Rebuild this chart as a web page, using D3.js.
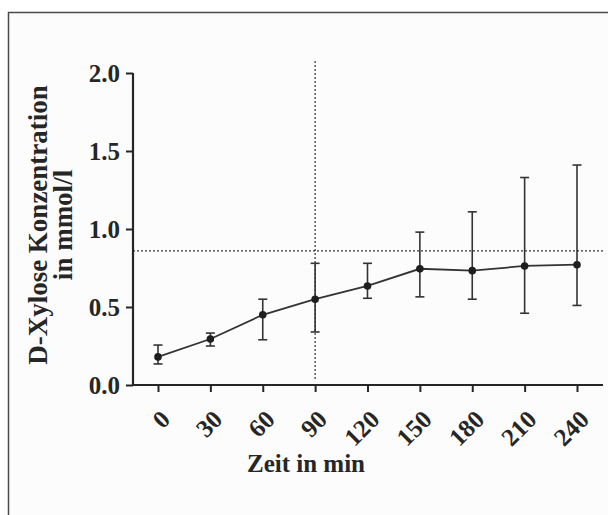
<!DOCTYPE html>
<html>
<head>
<meta charset="utf-8">
<script src="https://cdnjs.cloudflare.com/ajax/libs/d3/7.8.5/d3.min.js"></script>
<style>
  body { margin: 0; background: #fff; }
  text { font-family: "Liberation Serif", "Times New Roman", serif; font-weight: bold; fill: #262626; }
</style>
</head>
<body>
<script>
// data
var minutes = [0, 30, 60, 90, 120, 150, 180, 210, 240];
var means   = [0.18, 0.295, 0.45, 0.55, 0.635, 0.745, 0.733, 0.763, 0.771];
var upper   = [0.256, 0.333, 0.55, 0.78, 0.78, 0.98, 1.11, 1.33, 1.41];
var lower   = [0.135, 0.25, 0.29, 0.34, 0.556, 0.565, 0.55, 0.46, 0.51];
var yTicks  = [0, 0.5, 1.0, 1.5, 2.0];
var refLevel = 0.86;
var refTime = 90;

var W = 608, H = 515;

var svg = d3.select("body").append("svg")
        .attr("width", W)
        .attr("height", H);

// frame
svg.append("rect")
        .attr("x", 8.5).attr("y", 12.5)
        .attr("width", W + 10).attr("height", H + 10)
        .style("fill", "#fcfcfc")
        .style("stroke", "#4a4a4a")
        .style("stroke-width", 1.5);

var x0 = 133, x1 = 603, yBottom = 385, yTop = 73;

var scale_x = d3.scaleLinear()
        .domain([0, 240])
        .range([158, 577]);

var scale_y = d3.scaleLinear()
        .domain([0, 2])
        .range([yBottom, yTop]);

var ink = "#262626";

// reference lines
svg.append("line")
        .attr("x1", x0).attr("x2", x1)
        .attr("y1", scale_y(refLevel)).attr("y2", scale_y(refLevel))
        .style("stroke", "#333").style("stroke-width", 1.2)
        .style("stroke-dasharray", "2,2");

svg.append("line")
        .attr("x1", scale_x(refTime)).attr("x2", scale_x(refTime))
        .attr("y1", 61).attr("y2", 380)
        .style("stroke", "#333").style("stroke-width", 1.2)
        .style("stroke-dasharray", "2,2");

// y-axis
var y_axis = svg.append("g")
        .attr("transform", "translate(" + x0 + ",0)")
        .call(d3.axisLeft(scale_y)
                .tickValues(yTicks)
                .tickFormat(d3.format(".1f"))
                .tickSize(7)
                .tickSizeOuter(0));
y_axis.select(".domain").style("stroke", ink).style("stroke-width", 2.2)
        .attr("d", "M0," + (yBottom + 1) + "V" + yTop);
y_axis.selectAll(".tick line").style("stroke", ink).style("stroke-width", 2);
y_axis.selectAll(".tick text")
        .attr("x", -13)
        .attr("dy", "0.35em")
        .style("font-size", "25px")
        .style("font-family", "Liberation Serif");

// x-axis
var x_axis = svg.append("g")
        .attr("transform", "translate(0," + yBottom + ")")
        .call(d3.axisBottom(scale_x)
                .tickValues(minutes)
                .tickSize(7)
                .tickSizeOuter(0));
x_axis.select(".domain").style("stroke", ink).style("stroke-width", 2.2)
        .attr("d", "M" + (x0 - 1) + ",0H" + x1);
x_axis.selectAll(".tick line").style("stroke", ink).style("stroke-width", 2);
x_axis.selectAll(".tick text")
        .attr("y", 0).attr("dy", 0)
        .attr("transform", "translate(7,30) rotate(-45)")
        .style("text-anchor", "end")
        .attr("dominant-baseline", "central")
        .style("font-size", "25px")
        .style("font-family", "Liberation Serif");

// error bars
var data = minutes.map(function(m, i){
    return {t: m, mean: means[i], hi: upper[i], lo: lower[i]};
});

var bars = svg.append("g");
bars.selectAll("line.err")
        .data(data).enter().append("line")
        .attr("x1", function(d){ return scale_x(d.t); })
        .attr("x2", function(d){ return scale_x(d.t); })
        .attr("y1", function(d){ return scale_y(d.hi); })
        .attr("y2", function(d){ return scale_y(d.lo); })
        .style("stroke", "#333").style("stroke-width", 1.6);
["hi", "lo"].forEach(function(k){
    bars.selectAll("line.cap" + k)
            .data(data).enter().append("line")
            .attr("x1", function(d){ return scale_x(d.t) - 4.5; })
            .attr("x2", function(d){ return scale_x(d.t) + 4.5; })
            .attr("y1", function(d){ return scale_y(d[k]); })
            .attr("y2", function(d){ return scale_y(d[k]); })
            .style("stroke", "#333").style("stroke-width", 1.6);
});

// mean line
var line = d3.line()
        .x(function(d){ return scale_x(d.t); })
        .y(function(d){ return scale_y(d.mean); });

svg.append("path")
        .attr("d", line(data))
        .style("fill", "none")
        .style("stroke", "#333")
        .style("stroke-width", 1.8);

svg.selectAll("circle.pt")
        .data(data).enter().append("circle")
        .attr("cx", function(d){ return scale_x(d.t); })
        .attr("cy", function(d){ return scale_y(d.mean); })
        .attr("r", 3.8)
        .style("fill", "#1e1e1e");

// axis titles
svg.append("text")
        .text("Zeit in min")
        .attr("x", 306)
        .attr("y", 472)
        .attr("text-anchor", "middle")
        .style("font-size", "25px");

var ytitle = svg.append("text")
        .attr("transform", "translate(47,225) rotate(-90)")
        .attr("text-anchor", "middle")
        .style("font-size", "27px");
ytitle.append("tspan").attr("x", 0).attr("dy", 0).text("D-Xylose Konzentration");
ytitle.append("tspan").attr("x", 0).attr("dy", "0.92em").text("in mmol/l");
</script>
</body>
</html>
